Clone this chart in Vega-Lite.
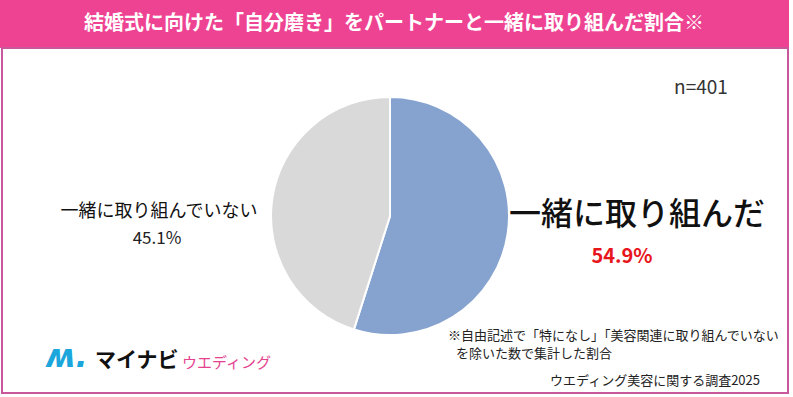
{
  "$schema": "https://vega.github.io/schema/vega-lite/v6.json",
  "width": 793,
  "height": 397,
  "autosize": {"type": "fit", "contains": "padding"},
  "padding": 0,
  "background": "#ffffff",
  "config": {"view": {"stroke": null}, "font": "Noto Sans CJK JP"},
  "datasets": {
    "shares": [
      {"category": "一緒に取り組んだ", "pct": 0.549},
      {"category": "一緒に取り組んでいない", "pct": 0.451}
    ],
    "one": [{}]
  },
  "data": {"name": "shares"},
  "layer": [
    {
      "data": {"name": "one"},
      "mark": {"type": "rect", "color": "#EE4392"},
      "encoding": {
        "x": {"datum": 0, "type": "quantitative", "scale": {"domain": [0, 793], "nice": false, "zero": false}, "axis": null},
        "x2": {"datum": 789},
        "y": {"datum": 0, "type": "quantitative", "scale": {"domain": [0, 397], "nice": false, "zero": false, "reverse": true}, "axis": null},
        "y2": {"datum": 48}
      }
    },
    {
      "data": {"name": "one"},
      "mark": {"type": "rect", "fill": null, "fillOpacity": 0, "stroke": "#C9579B", "strokeWidth": 2},
      "encoding": {
        "x": {"datum": 2, "type": "quantitative", "scale": {"domain": [0, 793], "nice": false, "zero": false}, "axis": null},
        "x2": {"datum": 788},
        "y": {"datum": 48, "type": "quantitative", "scale": {"domain": [0, 397], "nice": false, "zero": false, "reverse": true}, "axis": null},
        "y2": {"datum": 393}
      }
    },
    {
      "data": {"name": "one"},
      "mark": {"type": "text", "color": "#ffffff", "fontSize": 20, "fontWeight": "bold", "align": "center", "baseline": "middle", "text": "結婚式に向けた「自分磨き」をパートナーと一緒に取り組んだ割合※"},
      "encoding": {
        "x": {"datum": 394, "type": "quantitative", "scale": {"domain": [0, 793], "nice": false, "zero": false}, "axis": null},
        "y": {"datum": 24, "type": "quantitative", "scale": {"domain": [0, 397], "nice": false, "zero": false, "reverse": true}, "axis": null}
      }
    },
    {
      "mark": {"type": "arc", "outerRadius": 119, "stroke": "#ffffff", "strokeWidth": 2},
      "encoding": {
        "theta": {"field": "pct", "type": "quantitative", "stack": true},
        "color": {"field": "category", "type": "nominal", "legend": null,
          "scale": {"domain": ["一緒に取り組んだ", "一緒に取り組んでいない"], "range": ["#86A3CF", "#D9D9D9"]}},
        "x": {"datum": 390, "type": "quantitative", "scale": {"domain": [0, 793], "nice": false, "zero": false}, "axis": null},
        "y": {"datum": 216, "type": "quantitative", "scale": {"domain": [0, 397], "nice": false, "zero": false, "reverse": true}, "axis": null}
      }
    },
    {
      "transform": [{"filter": "datum.category === '一緒に取り組んだ'"}],
      "mark": {"type": "text", "color": "#111111", "fontSize": 32, "fontWeight": 500, "align": "center", "baseline": "middle"},
      "encoding": {
        "text": {"field": "category"},
        "x": {"datum": 637, "type": "quantitative", "scale": {"domain": [0, 793], "nice": false, "zero": false}, "axis": null},
        "y": {"datum": 215, "type": "quantitative", "scale": {"domain": [0, 397], "nice": false, "zero": false, "reverse": true}, "axis": null}
      }
    },
    {
      "transform": [{"filter": "datum.category === '一緒に取り組んだ'"}],
      "mark": {"type": "text", "color": "#E8161C", "fontSize": 20, "fontWeight": "bold", "align": "center", "baseline": "middle"},
      "encoding": {
        "text": {"field": "pct", "format": ".1%"},
        "x": {"datum": 622, "type": "quantitative", "scale": {"domain": [0, 793], "nice": false, "zero": false}, "axis": null},
        "y": {"datum": 257, "type": "quantitative", "scale": {"domain": [0, 397], "nice": false, "zero": false, "reverse": true}, "axis": null}
      }
    },
    {
      "transform": [{"filter": "datum.category === '一緒に取り組んでいない'"}],
      "mark": {"type": "text", "color": "#111111", "fontSize": 18, "align": "center", "baseline": "middle"},
      "encoding": {
        "text": {"field": "category"},
        "x": {"datum": 159, "type": "quantitative", "scale": {"domain": [0, 793], "nice": false, "zero": false}, "axis": null},
        "y": {"datum": 212, "type": "quantitative", "scale": {"domain": [0, 397], "nice": false, "zero": false, "reverse": true}, "axis": null}
      }
    },
    {
      "transform": [{"filter": "datum.category === '一緒に取り組んでいない'"}],
      "mark": {"type": "text", "color": "#222222", "fontSize": 17, "align": "center", "baseline": "middle"},
      "encoding": {
        "text": {"field": "pct", "format": ".1%"},
        "x": {"datum": 157, "type": "quantitative", "scale": {"domain": [0, 793], "nice": false, "zero": false}, "axis": null},
        "y": {"datum": 239, "type": "quantitative", "scale": {"domain": [0, 397], "nice": false, "zero": false, "reverse": true}, "axis": null}
      }
    },
    {
      "data": {"name": "one"},
      "mark": {"type": "text", "color": "#333333", "fontSize": 19, "align": "center", "baseline": "middle", "text": "n=401"},
      "encoding": {
        "x": {"datum": 701, "type": "quantitative", "scale": {"domain": [0, 793], "nice": false, "zero": false}, "axis": null},
        "y": {"datum": 88, "type": "quantitative", "scale": {"domain": [0, 397], "nice": false, "zero": false, "reverse": true}, "axis": null}
      }
    },
    {
      "data": {"name": "one"},
      "mark": {"type": "text", "color": "#222222", "fontSize": 13, "align": "left", "baseline": "middle", "text": "※自由記述で「特になし」「美容関連に取り組んでいない"},
      "encoding": {
        "x": {"datum": 448, "type": "quantitative", "scale": {"domain": [0, 793], "nice": false, "zero": false}, "axis": null},
        "y": {"datum": 336, "type": "quantitative", "scale": {"domain": [0, 397], "nice": false, "zero": false, "reverse": true}, "axis": null}
      }
    },
    {
      "data": {"name": "one"},
      "mark": {"type": "text", "color": "#222222", "fontSize": 13, "align": "left", "baseline": "middle", "text": "を除いた数で集計した割合"},
      "encoding": {
        "x": {"datum": 456, "type": "quantitative", "scale": {"domain": [0, 793], "nice": false, "zero": false}, "axis": null},
        "y": {"datum": 354, "type": "quantitative", "scale": {"domain": [0, 397], "nice": false, "zero": false, "reverse": true}, "axis": null}
      }
    },
    {
      "data": {"name": "one"},
      "mark": {"type": "text", "color": "#222222", "fontSize": 13, "align": "right", "baseline": "middle", "text": "ウエディング美容に関する調査2025"},
      "encoding": {
        "x": {"datum": 760, "type": "quantitative", "scale": {"domain": [0, 793], "nice": false, "zero": false}, "axis": null},
        "y": {"datum": 381, "type": "quantitative", "scale": {"domain": [0, 397], "nice": false, "zero": false, "reverse": true}, "axis": null}
      }
    },
    {
      "data": {"name": "one"},
      "mark": {"type": "text", "color": "#1BA6DC", "fontSize": 32, "fontWeight": "bold", "fontStyle": "italic", "font": "DejaVu Sans", "align": "left", "baseline": "middle", "text": "ʍ."},
      "encoding": {
        "x": {"datum": 46, "type": "quantitative", "scale": {"domain": [0, 793], "nice": false, "zero": false}, "axis": null},
        "y": {"datum": 357, "type": "quantitative", "scale": {"domain": [0, 397], "nice": false, "zero": false, "reverse": true}, "axis": null}
      }
    },
    {
      "data": {"name": "one"},
      "mark": {"type": "text", "color": "#111111", "fontSize": 21, "fontWeight": "bold", "align": "left", "baseline": "middle", "text": "マイナビ"},
      "encoding": {
        "x": {"datum": 95, "type": "quantitative", "scale": {"domain": [0, 793], "nice": false, "zero": false}, "axis": null},
        "y": {"datum": 361, "type": "quantitative", "scale": {"domain": [0, 397], "nice": false, "zero": false, "reverse": true}, "axis": null}
      }
    },
    {
      "data": {"name": "one"},
      "mark": {"type": "text", "color": "#E4428E", "fontSize": 15, "align": "left", "baseline": "middle", "text": "ウエディング"},
      "encoding": {
        "x": {"datum": 182, "type": "quantitative", "scale": {"domain": [0, 793], "nice": false, "zero": false}, "axis": null},
        "y": {"datum": 363, "type": "quantitative", "scale": {"domain": [0, 397], "nice": false, "zero": false, "reverse": true}, "axis": null}
      }
    }
  ]
}
